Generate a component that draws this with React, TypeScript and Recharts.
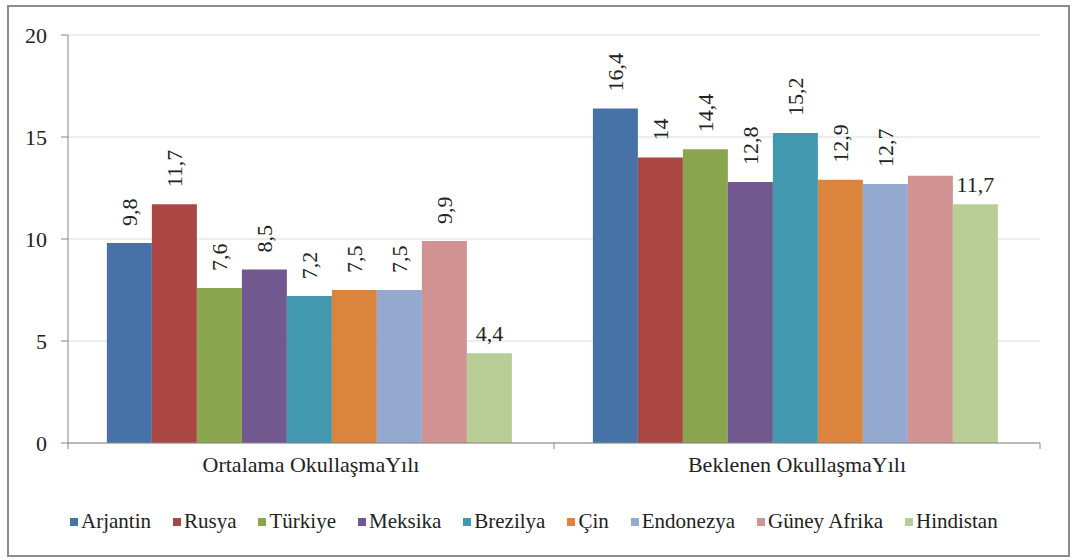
import { BarChart, Bar, XAxis, YAxis, CartesianGrid, LabelList } from 'recharts';

const categories = ['Ortalama OkullaşmaYılı', 'Beklenen OkullaşmaYılı'];
const countries = ['Arjantin', 'Rusya', 'Türkiye', 'Meksika', 'Brezilya', 'Çin', 'Endonezya', 'Güney Afrika', 'Hindistan'];

const arjantin = [9.8, 16.4];
const rusya = [11.7, 14];
const turkiye = [7.6, 14.4];
const meksika = [8.5, 12.8];
const brezilya = [7.2, 15.2];
const cin = [7.5, 12.9];
const endonezya = [7.5, 12.7];
const guneyAfrika = [9.9, 13.1];
const hindistan = [4.4, 11.7];

const yTicks = [0, 5, 10, 15, 20];

const values = [arjantin, rusya, turkiye, meksika, brezilya, cin, endonezya, guneyAfrika, hindistan];
const colors = ['#4672a8', '#aa4643', '#89a54e', '#71588f', '#4198af', '#db843d', '#93a9cf', '#d19392', '#b9cd96'];

const data = categories.map((name, i) => {
  const row: Record<string, string | number> = { name };
  countries.forEach((c, k) => { row[c] = values[k][i]; });
  return row;
});

const W = 1074;
const H = 560;
const M = { top: 35, right: 34, left: 0, bottom: 77 };
const Y_W = 68;
const FONT = 'Liberation Serif, DejaVu Serif, serif';
const halfBand = (W - M.left - M.right - Y_W) / categories.length / 2;

const fmt = (v: number) => String(v).replace('.', ',');

function makeLabel(series: string) {
  return (props: any) => {
    const { x, y, width, value, index } = props;
    // no label on this bar in the original
    if (series === 'Güney Afrika' && index === 1) return null;
    const cx = Number(x) + Number(width) / 2;
    if (series === 'Hindistan') {
      return (
        <text x={cx} y={Number(y) - 12} textAnchor="middle" fontSize={22} style={{ fontFamily: FONT }} fill="#222">
          {fmt(value)}
        </text>
      );
    }
    const ty = Number(y) - 17;
    return (
      <text
        x={cx}
        y={ty}
        transform={`rotate(-90 ${cx} ${ty})`}
        textAnchor="start"
        dominantBaseline="central"
        fontSize={22}
        style={{ fontFamily: FONT }}
        fill="#222"
      >
        {fmt(value)}
      </text>
    );
  };
}

function CategoryTick(props: any) {
  const { x, y, payload, index } = props;
  return (
    <g>
      {index === 0 && <line x1={x - halfBand} y1={y - 8} x2={x - halfBand} y2={y - 2} stroke="#868686" />}
      <line x1={x + halfBand} y1={y - 8} x2={x + halfBand} y2={y - 2} stroke="#868686" />
      <text x={x} y={y + 21} textAnchor="middle" fontSize={22} style={{ fontFamily: FONT }} fill="#222">
        {payload.value}
      </text>
    </g>
  );
}

export default function App() {
  return (
    <div style={{ position: 'absolute', left: 0, top: 0, width: W, height: H, background: '#fff', fontFamily: FONT }}>
      <div
        style={{
          position: 'absolute',
          left: 7,
          top: 5,
          width: 1059,
          height: 548,
          border: '2px solid #8c8c8c',
        }}
      />
      <div style={{ position: 'absolute', left: 0, top: 0 }}>
        <BarChart width={W} height={H} data={data} margin={M} barCategoryGap="8%" barGap={0} style={{ fontFamily: FONT }}>
          <CartesianGrid vertical={false} stroke="#d9d9d9" />
          <XAxis
            dataKey="name"
            height={40}
            tick={<CategoryTick />}
            tickLine={false}
            axisLine={{ stroke: '#868686' }}
            interval={0}
          />
          <YAxis
            width={Y_W}
            domain={[0, 20]}
            ticks={yTicks}
            tickSize={7}
            tickMargin={14}
            axisLine={{ stroke: '#868686' }}
            tickLine={{ stroke: '#868686' }}
            tick={{ fontSize: 22, fontFamily: FONT, fill: '#222' }}
          />
          {countries.map((c, k) => (
            <Bar key={c} dataKey={c} fill={colors[k]} isAnimationActive={false}>
              <LabelList dataKey={c} content={makeLabel(c)} />
            </Bar>
          ))}
        </BarChart>
      </div>
      <div
        style={{
          position: 'absolute',
          left: 70,
          top: 509,
          display: 'flex',
          alignItems: 'center',
          fontSize: 21,
          color: '#222',
          whiteSpace: 'nowrap',
        }}
      >
        {countries.map((c, k) => (
          <div key={c} style={{ display: 'flex', alignItems: 'center', marginRight: 22 }}>
            <span style={{ width: 8, height: 8, background: colors[k], marginRight: 3, display: 'inline-block' }} />
            <span>{c}</span>
          </div>
        ))}
      </div>
    </div>
  );
}
